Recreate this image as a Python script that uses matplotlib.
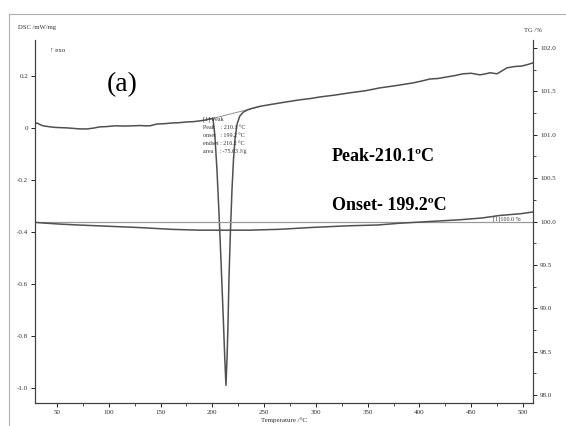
import matplotlib
matplotlib.use("Agg")
import matplotlib.pyplot as plt
from matplotlib.lines import Line2D
from matplotlib.ticker import MultipleLocator, FixedLocator

# DSC trace (Temperature / C, DSC / mW/mg)
dsc_temp = [28.8, 30.7, 33.0, 36.5, 40.0, 43.3, 48.0, 53.0, 59.7, 66.0, 72.3, 79.0,
            85.0, 91.6, 98.0, 103.0, 108.0, 115.0, 123.4, 130.0, 135.0, 139.8, 146.6,
            153.0, 162.1, 168.0, 175.6, 182.0, 188.1, 193.0, 197.8, 200.7, 202.5,
            204.5, 206.5, 208.5, 210.5, 212.0, 213.2, 214.3, 215.2, 216.1, 217.5,
            219.0, 220.5, 222.0, 224.0, 226.5, 229.7, 234.0, 238.3, 246.1, 255.0, 265.4,
            275.0, 284.7, 295.0, 304.0, 318.0, 333.0, 348.0, 362.0, 378.0, 393.8,
            402.0, 410.2, 418.0, 426.6, 434.0, 442.1, 450.0, 458.5, 464.0, 468.2,
            474.9, 480.0, 484.6, 492.0, 499.0, 504.0, 509.7]
dsc_val = [0.015, 0.019, 0.014, 0.008, 0.006, 0.004, 0.002, 0.001, 0.0, -0.002, -0.004, -0.004,
           -0.001, 0.004, 0.005, 0.007, 0.008, 0.007, 0.008, 0.009, 0.008, 0.008, 0.015,
           0.016, 0.019, 0.020, 0.023, 0.024, 0.027, 0.030, 0.035, 0.035, -0.03,
           -0.16, -0.33, -0.52, -0.72, -0.88, -0.99, -0.88, -0.75, -0.58, -0.40,
           -0.24, -0.12, -0.04, 0.015, 0.045, 0.060, 0.069, 0.075, 0.083, 0.089, 0.096,
           0.102, 0.108, 0.113, 0.119, 0.126, 0.135, 0.143, 0.154, 0.163, 0.173,
           0.180, 0.188, 0.190, 0.196, 0.201, 0.208, 0.210, 0.204, 0.208, 0.212,
           0.208, 0.220, 0.231, 0.236, 0.238, 0.243, 0.250]

# TG trace (Temperature / C, mass / %)
tg_temp = [28.8, 40.0, 53.0, 70.0, 90.0, 110.0, 130.0, 160.0, 188.0, 210.0, 235.0,
           265.0, 294.0, 330.0, 360.0, 381.0, 410.0, 439.0, 460.0, 478.0, 498.0, 509.7]
tg_val = [99.99, 99.98, 99.97, 99.96, 99.95, 99.94, 99.93, 99.91, 99.90, 99.90, 99.90,
          99.91, 99.93, 99.95, 99.96, 99.98, 100.00, 100.02, 100.04, 100.07, 100.09, 100.11]

# peak evaluation baseline
base_temp = [196.0, 246.0]
base_val = [0.032, 0.082]

x_ticks = [50, 100, 150, 200, 250, 300, 350, 400, 450, 500]
dsc_ticks = [0.2, 0.0, -0.2, -0.4, -0.6, -0.8, -1.0]
dsc_labels = ["0.2", "0", "-0.2", "-0.4", "-0.6", "-0.8", "-1.0"]
tg_ticks = [102.0, 101.5, 101.0, 100.5, 100.0, 99.5, 99.0, 98.5, 98.0]

peak_info = "[1] Peak\nPeak    : 210.1 \u00b0C\nonset   : 199.2 \u00b0C\nendset : 216.2 \u00b0C\narea    : -75.63 J/g"

serif = "Liberation Serif"
tick_fs = 5
line_col = "#505050"

fig = plt.figure(figsize=(5.66, 4.26), dpi=100)
fig.patch.set_facecolor("white")

# scanned page frame
fig.add_artist(Line2D([9 / 566, 9 / 566], [0, 1 - 14 / 426], color="#b0b0b0", lw=0.8))
fig.add_artist(Line2D([9 / 566, 1], [1 - 14 / 426, 1 - 14 / 426], color="#b0b0b0", lw=0.8))

ax = fig.add_axes([35 / 566, 1 - 403 / 426, 498 / 566, 363 / 426])
ax2 = ax.twinx()

ax.set_xlim(28.8, 509.7)
ax.set_ylim(-1.058, 0.338)
ax2.set_ylim(97.908, 102.092)

ax.plot(dsc_temp, dsc_val, color=line_col, lw=1.1, zorder=3)
ax.plot(base_temp, base_val, color="#909090", lw=0.7, zorder=2)
ax2.axhline(100.0, color="#9a9a9a", lw=0.9)
ax2.plot(tg_temp, tg_val, color=line_col, lw=1.1)

for a in (ax, ax2):
    a.spines["top"].set_visible(False)
    for s in ("left", "right", "bottom"):
        a.spines[s].set_color("#404040")
        a.spines[s].set_linewidth(0.8)

ax.xaxis.set_major_locator(FixedLocator(x_ticks))
ax.xaxis.set_minor_locator(MultipleLocator(25))
ax.set_yticks(dsc_ticks)
ax.set_yticklabels(dsc_labels)
ax2.set_yticks(tg_ticks)
ax2.set_yticklabels(["%.1f" % v for v in tg_ticks])
ax2.yaxis.set_minor_locator(MultipleLocator(0.25))

ax.tick_params(axis="both", which="major", length=3, width=0.6, labelsize=tick_fs, pad=2)
ax.tick_params(axis="x", which="minor", length=2, width=0.5)
ax2.tick_params(axis="y", which="major", length=3, width=0.6, labelsize=tick_fs, pad=2)
ax2.tick_params(axis="y", which="minor", length=2, width=0.5)
for lab in ax.get_xticklabels() + ax.get_yticklabels() + ax2.get_yticklabels():
    lab.set_fontfamily(serif)
    lab.set_color("#303030")

ax.set_xlabel("Temperature /\u00b0C", fontfamily=serif, fontsize=5, color="#303030", labelpad=1.5)

fig.text(18 / 566, 1 - 27 / 426, "DSC /mW/mg", fontfamily=serif, fontsize=4.8,
         color="#303030", va="center")
fig.text(533 / 566, 1 - 30 / 426, "TG /%", fontfamily=serif, fontsize=4.8,
         color="#303030", va="center", ha="center")
fig.text(50 / 566, 1 - 50 / 426, "\u2191 exo", fontfamily=serif, fontsize=5,
         color="#303030", va="center")

ax.text(0.144, 0.876, "(a)", transform=ax.transAxes, fontfamily=serif, fontsize=20, va="center")
ax.text(0.596, 0.68, "Peak-210.1\u00baC", transform=ax.transAxes, fontfamily=serif,
        fontsize=13, fontweight="bold", va="center")
ax.text(0.596, 0.545, "Onset- 199.2\u00baC", transform=ax.transAxes, fontfamily=serif,
        fontsize=13, fontweight="bold", va="center")
ax.text(0.338, 0.79, peak_info, transform=ax.transAxes, fontfamily=serif,
        fontsize=4.3, color="#303030", va="top", linespacing=1.75)
ax.text(0.92, 0.505, "[1]100.0 %", transform=ax.transAxes, fontfamily=serif,
        fontsize=4.3, color="#303030", va="center")

fig.savefig("out.png", dpi=100)
